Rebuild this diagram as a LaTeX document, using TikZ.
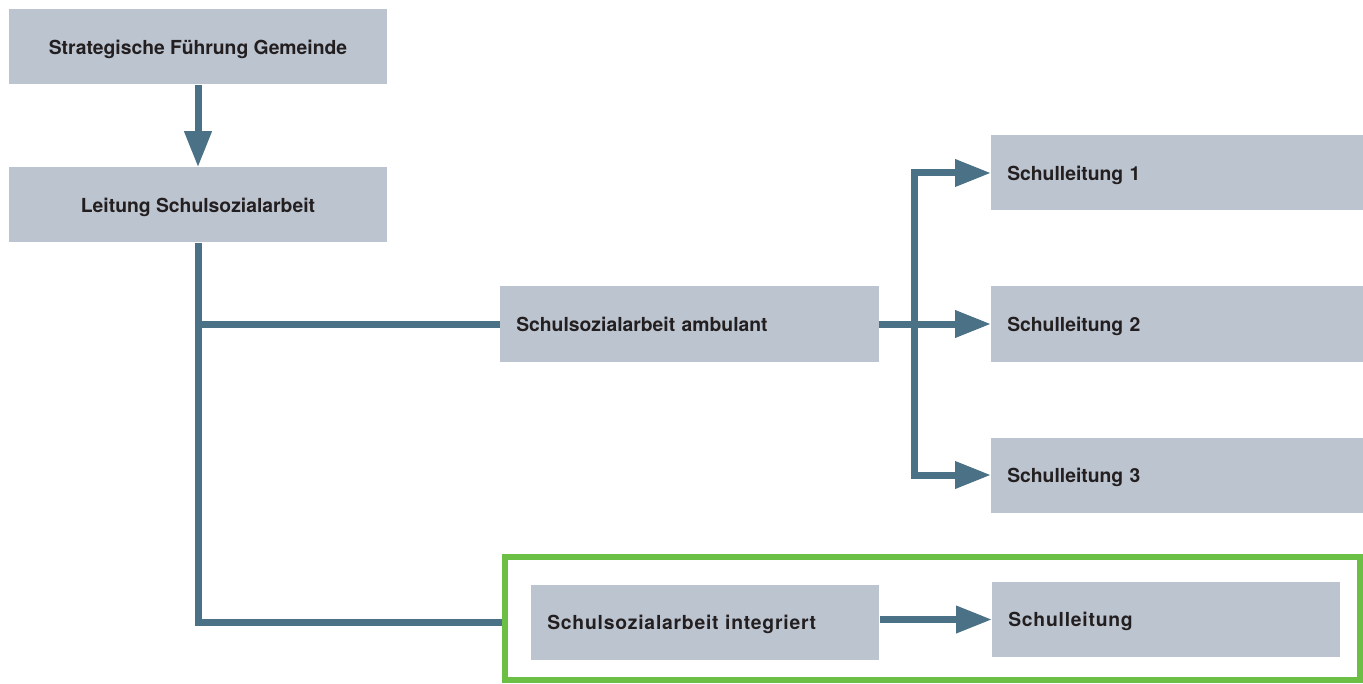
\documentclass[tikz,border=0pt]{standalone}
\usepackage{fontspec}
\setsansfont{TeX Gyre Heros}
\usetikzlibrary{arrows.meta}
\definecolor{boxgray}{HTML}{BCC4CF}
\definecolor{linkblue}{HTML}{4A7185}
\definecolor{framegreen}{HTML}{6CBF45}
\definecolor{textdark}{HTML}{231F20}
\begin{document}
\begin{tikzpicture}[x=0.75pt,y=-0.75pt,box/.style={fill=boxgray, text=textdark, minimum height=56.25pt, inner sep=0pt, text depth=0pt, font=\sffamily\bfseries\fontsize{14.5}{17}\selectfont},mid box/.style={box, minimum width=283.5pt, align=center},side box/.style={box, anchor=west, inner xsep=12pt, text width=#1, align=left},wide/.style={font=\sffamily\bfseries\fontsize{14.5}{17}\selectfont\addfontfeature{LetterSpace=4}},conn/.style={draw=linkblue, line width=5.25pt},arr/.style={conn, -{Triangle[length=27pt,width=19.5pt]}}]
\useasboundingbox (0,0) rectangle (1363,684);
\node[mid box] (strat) at (198,47) {Strategische Führung Gemeinde};
\node[mid box] (leitung) at (198,205) {Leitung Schulsozialarbeit};
\node[side box=260pt] (ambulant) at (500,324) {Schulsozialarbeit ambulant};
\node[side box=255pt] (sl1) at (991,173) {Schulleitung 1};
\node[side box=255pt] (sl2) at (991,324) {Schulleitung 2};
\node[side box=255pt] (sl3) at (991,475) {Schulleitung 3};
\draw[framegreen, line width=4.5pt] (505,557) rectangle (1360,680);
\coordinate (frame) at (502,622);
\node[side box=237pt, wide] (integriert) at (531,622.5) {Schulsozialarbeit integriert};
\node[side box=237pt, wide] (sl) at (992,619.5) {Schulleitung};
\coordinate (fork) at (914,324);
\draw[arr] (strat.south) -- (leitung.north);
\draw[conn] (leitung.south) |- (frame);
\draw[conn] (leitung.south |- ambulant.west) -- (ambulant.west);
\draw[arr] (ambulant.east) -- (sl2.west);
\draw[arr] (fork) |- (sl1.west);
\draw[arr] (fork) |- (sl3.west);
\draw[arr] (integriert.east |- sl.west) -- (sl.west);
\end{tikzpicture}
\end{document}
